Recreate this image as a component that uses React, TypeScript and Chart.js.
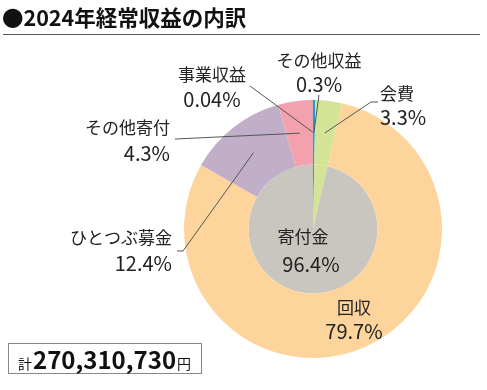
import React, { useEffect, useRef } from "react";
import { Chart, registerables } from "chart.js";

Chart.register(...registerables);

const titleText = "●2024年経常収益の内訳";
const totalPrefix = "計";
const totalValue = "270,310,730";
const totalSuffix = "円";

// outer ring (clockwise from 12 o'clock)
const outerLabels = ["その他収益", "会費", "回収", "ひとつぶ募金", "その他寄付", "事業収益"];
const outerValues = [0.3, 3.3, 79.7, 12.4, 4.3, 0.04];
const outerColors = ["#1C9CD8", "#D4E497", "#FDD59C", "#C1AFC9", "#F3A1AC", "#8A8A8A"];

// inner pie
const innerLabels = ["その他収益", "会費", "寄付金", "事業収益"];
const innerValues = [0.3, 3.3, 96.4, 0.04];
const innerColors = ["#1C9CD8", "#D4E497", "#C9C5BF", "#8A8A8A"];

type LabelSpec = {
  name: string;
  value: number;
  x: number;
  y1: number;
  y2: number;
  align: CanvasTextAlign;
  dx2?: number;
  line?: { pts: [number, number][]; slice: number };
};

const labelLayout: LabelSpec[] = [
  { name: outerLabels[0], value: outerValues[0], x: 319, y1: 61, y2: 84, align: "center", line: { pts: [[319, 95]], slice: 0 } },
  { name: outerLabels[5], value: outerValues[5], x: 212, y1: 75, y2: 99, align: "center", line: { pts: [[250, 86]], slice: 5 } },
  { name: outerLabels[1], value: outerValues[1], x: 380, y1: 94, y2: 117, align: "left", line: { pts: [[378, 102], [371, 102]], slice: 1 } },
  { name: outerLabels[4], value: outerValues[4], x: 170, y1: 128, y2: 153, align: "right", line: { pts: [[175, 139]], slice: 4 } },
  { name: outerLabels[3], value: outerValues[3], x: 172, y1: 238, y2: 263, align: "right", line: { pts: [[177, 251], [183, 251]], slice: 3 } },
  { name: outerLabels[2], value: outerValues[2], x: 354, y1: 308, y2: 331, align: "center" },
  { name: innerLabels[2], value: innerValues[2], x: 303, y1: 237, y2: 264, align: "center", dx2: 8 },
];

const labelsPlugin = {
  id: "customLabels",
  afterDraw(chart: any) {
    const ctx = chart.ctx as CanvasRenderingContext2D;
    const meta = chart.getDatasetMeta(0);
    ctx.save();
    ctx.strokeStyle = "#555555";
    ctx.lineWidth = 1;
    for (const l of labelLayout) {
      if (!l.line) continue;
      const arc = meta.data[l.line.slice] as any;
      const p = arc.getProps(["x", "y", "startAngle", "endAngle", "innerRadius", "outerRadius"], true);
      const mid = (p.startAngle + p.endAngle) / 2;
      const r = (p.innerRadius + p.outerRadius) / 2;
      const ex = p.x + Math.cos(mid) * r;
      const ey = p.y + Math.sin(mid) * r;
      ctx.beginPath();
      ctx.moveTo(l.line.pts[0][0], l.line.pts[0][1]);
      for (let i = 1; i < l.line.pts.length; i++) ctx.lineTo(l.line.pts[i][0], l.line.pts[i][1]);
      ctx.lineTo(ex, ey);
      ctx.stroke();
    }
    ctx.fillStyle = "#222222";
    ctx.textBaseline = "middle";
    for (const l of labelLayout) {
      ctx.textAlign = l.align;
      ctx.font = '17px "Noto Sans CJK JP", sans-serif';
      ctx.fillText(l.name, l.x, l.y1);
      ctx.font = '20px "Noto Sans CJK JP", sans-serif';
      ctx.fillText(`${l.value}%`, l.x + (l.dx2 || 0), l.y2);
    }
    ctx.restore();
  },
};

export default function App() {
  const ref = useRef<HTMLCanvasElement | null>(null);
  useEffect(() => {
    document.body.style.margin = "0";
    if (!ref.current) return;
    const chart = new Chart(ref.current, {
      type: "doughnut",
      data: {
        labels: outerLabels,
        datasets: [
          { data: outerValues, backgroundColor: outerColors, borderWidth: 0, hoverOffset: 0 },
          { data: innerValues, backgroundColor: innerColors, borderWidth: 0, hoverOffset: 0 },
        ],
      },
      options: {
        responsive: false,
        devicePixelRatio: 1,
        animation: false,
        cutout: 0,
        rotation: 0,
        layout: { padding: { left: 184, right: 45, top: 100, bottom: 32 } },
        plugins: { legend: { display: false }, tooltip: { enabled: false }, title: { display: false } },
        events: [],
      },
      plugins: [labelsPlugin],
    });
    return () => chart.destroy();
  }, []);

  return (
    <div style={{ position: "relative", width: 487, height: 390, background: "#fff", overflow: "hidden" }}>
      <canvas ref={ref} width={487} height={390} style={{ position: "absolute", left: 0, top: 0 }} />
      <div
        style={{
          position: "absolute",
          left: 2,
          top: 3,
          fontFamily: '"Noto Sans CJK JP", sans-serif',
          fontWeight: 700,
          fontSize: 21.5,
          lineHeight: "28px",
          color: "#111",
          whiteSpace: "nowrap",
        }}
      >
        {titleText}
      </div>
      <div style={{ position: "absolute", left: 3, top: 34, width: 477, height: 0, borderTop: "1.5px solid #555" }} />
      <div
        style={{
          position: "absolute",
          left: 8,
          top: 343,
          width: 192,
          height: 29,
          border: "1px solid #888",
          boxSizing: "content-box",
          display: "flex",
          alignItems: "baseline",
          color: "#111",
          whiteSpace: "nowrap",
        }}
      >
        <span style={{ fontFamily: '"Noto Sans CJK JP", sans-serif', fontSize: 14, marginLeft: 9 }}>{totalPrefix}</span>
        <span style={{ fontFamily: '"Noto Sans CJK JP", sans-serif', fontWeight: 700, fontSize: 24, lineHeight: "29px", marginLeft: 1 }}>{totalValue}</span>
        <span style={{ fontFamily: '"Noto Sans CJK JP", sans-serif', fontSize: 14, marginLeft: 1 }}>{totalSuffix}</span>
      </div>
    </div>
  );
}
